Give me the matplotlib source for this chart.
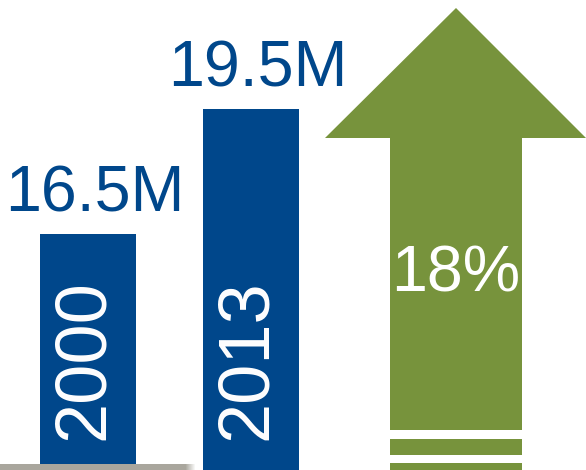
import numpy as np
import matplotlib
matplotlib.use("Agg")
from matplotlib import pyplot as plt
from matplotlib.patches import Polygon, Rectangle

# data
years = ["2000", "2013"]
values = [16.5, 19.5]
labels = ["16.5M", "19.5M"]
growth = "18%"

blue = "#00478B"
green = "#77933C"
gray = "#A9A69D"

plt.rcParams["font.family"] = ["Liberation Sans", "DejaVu Sans"]

fig = plt.figure(figsize=(5.86, 4.70), dpi=100)

# bars
ax = fig.add_axes([0, 0, 1, 1])
x = np.arange(len(years))
ax.bar(x, values, width=0.589, color=blue, zorder=2)
ax.set_xlim(-0.54, 3.055)
ax.set_ylim(10.84, 22.12)
ax.axis("off")

for i in range(len(years)):
    ax.text(x[i] + 0.04, values[i] + 0.54, labels[i], color=blue,
            fontsize=46.5, ha="center", va="baseline")
    ax.text(x[i] - 0.02, 13.48, years[i], color="white", fontsize=52,
            rotation=90, ha="center", va="center", zorder=3)

# arrow and baseline in pixel coords
ov = fig.add_axes([0, 0, 1, 1], facecolor="none")
ov.set_xlim(0, 586)
ov.set_ylim(470, 0)
ov.axis("off")

arrow = [(456, 8), (586, 138), (522, 138), (522, 430),
         (390, 430), (390, 138), (325, 138)]
ov.add_patch(Polygon(arrow, closed=True, color=green, lw=0))
ov.add_patch(Rectangle((390, 439), 132, 16, color=green, lw=0))
ov.add_patch(Rectangle((390, 463), 132, 10, color=green, lw=0))
ov.text(456, 292, growth, color="white", fontsize=46.5,
        ha="center", va="baseline")

# gray baseline fading out on the right
ov.add_patch(Rectangle((0, 464), 185, 8, color=gray, lw=0, zorder=4))
for k in range(10):
    ov.add_patch(Rectangle((185 + k, 464), 1, 8, color=gray, lw=0,
                           alpha=1 - k / 10, zorder=4))

fig.savefig("out.png", dpi=100)
